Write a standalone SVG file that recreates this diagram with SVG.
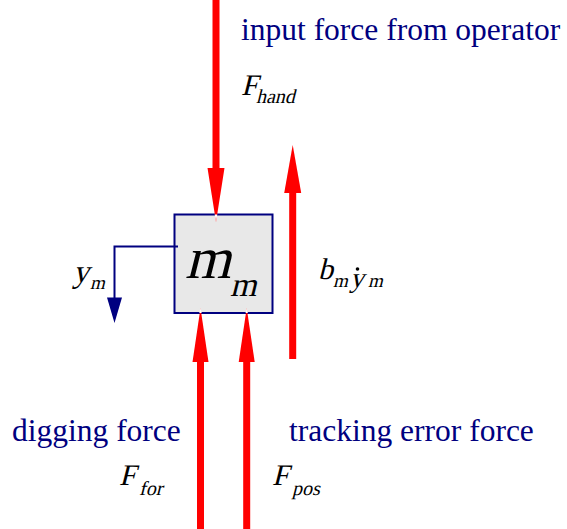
<svg xmlns="http://www.w3.org/2000/svg" width="567" height="529" viewBox="0 0 567 529">
<style>
.lbl{font-family:"Liberation Serif","Times New Roman",serif;fill:#000080;font-size:31.5px}
.math{font-family:"Liberation Serif","Times New Roman",serif;font-style:normal;fill:#000}
.shaft{fill:#ff0000}
.head{fill:#ff0000}
.tip{fill:#ffffff}
</style>
<rect width="567" height="529" fill="#ffffff"/>
<g id="mass">
<rect x="174.5" y="214.5" width="98" height="98.5" fill="#e8e8e8" stroke="#000080" stroke-width="2"/>
<text class="math" transform="translate(185,278) skewX(-14)" font-size="59">m</text>
<text class="math" transform="translate(230,296) skewX(-14)" font-size="34">m</text>
</g>
<g id="connectors">
<g id="f-hand-arrow">
<rect class="shaft" x="212.5" y="0" width="7" height="170"/>
<polygon class="head" points="207.5,168 224.5,168 216,222"/>
<polygon class="tip" points="214.7,214.5 217.3,214.5 216,222"/>
</g>
<g id="damping-arrow">
<polygon class="head" points="284.2,193 301.2,193 292.7,145"/>
<rect class="shaft" x="289.2" y="191" width="7" height="168"/>
</g>
<g id="f-for-arrow">
<polygon class="head" points="192.5,362 208.5,362 200.5,308"/>
<rect class="shaft" x="197" y="360" width="7" height="169"/>
<polygon class="tip" points="199.3,313 201.7,313 200.5,308"/>
</g>
<g id="f-pos-arrow">
<polygon class="head" points="238.7,362 254.7,362 246.7,308"/>
<rect class="shaft" x="243.2" y="360" width="7" height="169"/>
<polygon class="tip" points="245.5,313 247.9,313 246.7,308"/>
</g>
<g id="ym-arrow">
<polyline points="178,246.5 114.5,246.5 114.5,299" fill="none" stroke="#000080" stroke-width="2"/>
<polygon points="107,297.5 122,297.5 114.5,323" fill="#000080"/>
</g>
</g>
<g id="label-hand">
<text class="lbl" x="241" y="40">input force from operator</text>
<text class="math" transform="translate(241,95) skewX(-14)" font-size="30">F</text>
<text class="math" transform="translate(256,103) skewX(-14)" font-size="20">hand</text>
</g>
<g id="label-ym">
<text class="math" transform="translate(73,282) skewX(-14)" font-size="32">y</text>
<text class="math" transform="translate(90,289) skewX(-14)" font-size="19">m</text>
</g>
<g id="label-damping">
<text class="math" transform="translate(318,279) skewX(-14)" font-size="30">b</text>
<text class="math" transform="translate(333,287) skewX(-14)" font-size="19">m</text>
<text class="math" transform="translate(350,287) skewX(-14)" font-size="28">y</text>
<circle cx="357.5" cy="269" r="1.8" fill="#000"/>
<text class="math" transform="translate(368,287) skewX(-14)" font-size="19">m</text>
</g>
<g id="label-for">
<text class="lbl" x="12" y="441">digging force</text>
<text class="math" transform="translate(119,485) skewX(-14)" font-size="30">F</text>
<text class="math" transform="translate(139,495) skewX(-14)" font-size="20">for</text>
</g>
<g id="label-pos">
<text class="lbl" x="289" y="441">tracking error force</text>
<text class="math" transform="translate(272,485) skewX(-14)" font-size="30">F</text>
<text class="math" transform="translate(292,495) skewX(-14)" font-size="20">pos</text>
</g>
</svg>
